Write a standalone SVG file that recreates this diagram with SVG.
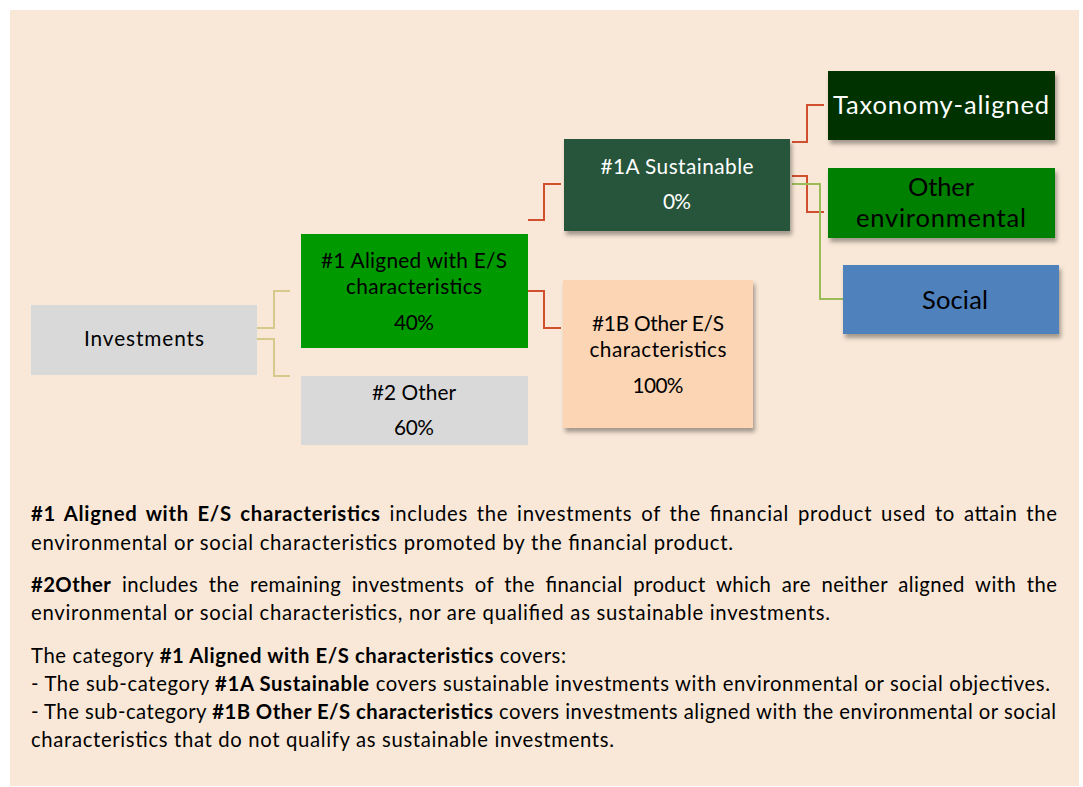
<svg xmlns="http://www.w3.org/2000/svg" width="1083" height="787" viewBox="0 0 1083 787">
<style>
.lbl{font-family:Lato,"Noto Sans","Liberation Sans",sans-serif;font-size:20.8px;text-anchor:middle;fill:#000}
.big{font-size:25.5px}
.w{fill:#fff}
.body{font-family:Lato,"Noto Sans","Liberation Sans",sans-serif;font-size:20.3px;fill:#000}
.b{font-weight:bold}
.olive{fill:none;stroke:#d6c98c;stroke-width:2}
.red{fill:none;stroke:#cf4f2f;stroke-width:2}
.grn{fill:none;stroke:#9bbb59;stroke-width:2}
</style>
<defs>
<filter id="sh" x="-10%" y="-10%" width="130%" height="140%">
<feDropShadow dx="2" dy="4" stdDeviation="2" flood-color="#000" flood-opacity="0.35"/>
</filter>
</defs>
<rect x="0" y="0" width="1083" height="787" fill="#fff"/>
<rect x="10" y="10" width="1069" height="776" fill="#f9e8d7"/>

<g id="connectors">
<polyline class="olive" points="257,328 274,328 274,291 290,291"/>
<polyline class="olive" points="257,339 274,339 274,376 290,376"/>
<polyline class="red" points="528,220 544,220 544,184 561,184"/>
<polyline class="red" points="528,291 544,291 544,328 561,328"/>
<polyline class="red" points="792,142 807,142 807,105 824,105"/>
<polyline class="red" points="792,176 807,176 807,212 824,212"/>
<polyline class="grn" points="792,184 820,184 820,299 843,299"/>
</g>

<g id="investments">
<rect x="31" y="305" width="226" height="70" fill="#d9d9d9"/>
<text class="lbl" x="144" y="346" textLength="120">Investments</text>
</g>
<g id="aligned">
<rect x="301" y="234" width="227" height="114" fill="#009900"/>
<text class="lbl" x="414" y="268" textLength="186">#1 Aligned with E/S</text>
<text class="lbl" x="414" y="294" textLength="136">characteristics</text>
<text class="lbl" x="414" y="330" textLength="40">40%</text>
</g>
<g id="other">
<rect x="301" y="376" width="227" height="69" fill="#d9d9d9"/>
<text class="lbl" x="414" y="400" textLength="84">#2 Other</text>
<text class="lbl" x="414" y="435" textLength="40">60%</text>
</g>
<g id="sustainable">
<rect x="564" y="139" width="226" height="92" fill="#27553a" filter="url(#sh)"/>
<text class="lbl w" x="677" y="174" textLength="153">#1A Sustainable</text>
<text class="lbl w" x="677" y="209" textLength="28">0%</text>
</g>
<g id="otheres">
<rect x="563" y="280" width="190" height="148" fill="#fcd5b5" filter="url(#sh)"/>
<text class="lbl" x="658" y="331" textLength="132">#1B Other E/S</text>
<text class="lbl" x="658" y="357" textLength="137">characteristics</text>
<text class="lbl" x="658" y="393" textLength="51">100%</text>
</g>
<g id="taxonomy">
<rect x="828" y="71" width="227" height="69" fill="#003300" filter="url(#sh)"/>
<text class="lbl big w" x="941" y="114" textLength="216">Taxonomy-aligned</text>
</g>
<g id="otherenv">
<rect x="828" y="168" width="227" height="70" fill="#008000" filter="url(#sh)"/>
<text class="lbl big" x="941" y="196" textLength="66">Other</text>
<text class="lbl big" x="941" y="227" textLength="170">environmental</text>
</g>
<g id="social">
<rect x="843" y="265" width="216" height="69" fill="#4f81bd" filter="url(#sh)"/>
<text class="lbl big" x="955" y="309" textLength="66">Social</text>
</g>

<g id="notes">
<text class="body" x="31" y="521" textLength="1026" lengthAdjust="spacing" word-spacing="3"><tspan class="b">#1 Aligned with E/S characteristics</tspan> includes the investments of the financial product used to attain the</text>
<text class="body" x="31" y="550" textLength="702">environmental or social characteristics promoted by the financial product.</text>
<text class="body" x="31" y="592" textLength="1026" lengthAdjust="spacing" word-spacing="5"><tspan class="b">#2Other</tspan> includes the remaining investments of the financial product which are neither aligned with the</text>
<text class="body" x="31" y="620" textLength="799">environmental or social characteristics, nor are qualified as sustainable investments.</text>
<text class="body" x="31" y="663" textLength="535">The category <tspan class="b">#1 Aligned with E/S characteristics</tspan> covers:</text>
<text class="body" x="31" y="691" textLength="1019">- The sub-category <tspan class="b">#1A Sustainable</tspan> covers sustainable investments with environmental or social objectives.</text>
<text class="body" x="31" y="719" textLength="1025">- The sub-category <tspan class="b">#1B Other E/S characteristics</tspan> covers investments aligned with the environmental or social</text>
<text class="body" x="31" y="747" textLength="583">characteristics that do not qualify as sustainable investments.</text>
</g>
</svg>
